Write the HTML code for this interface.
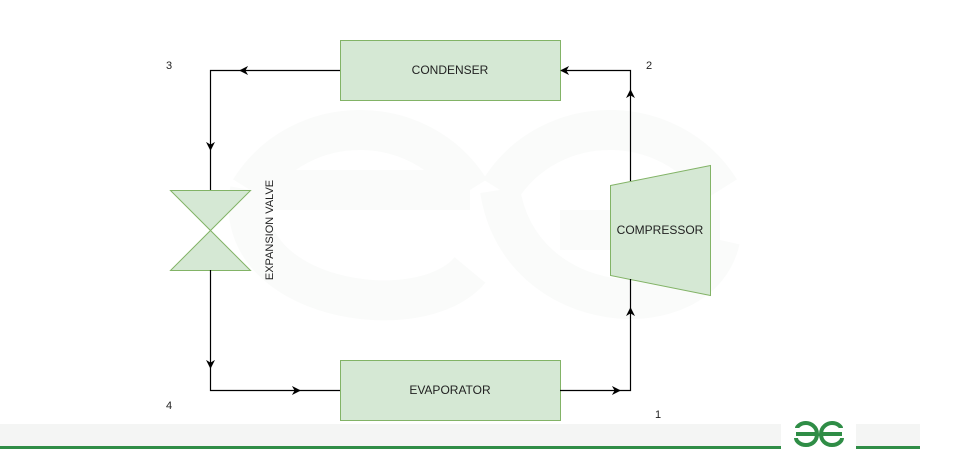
<!DOCTYPE html>
<html><head><style>html,body{margin:0;padding:0;background:#fff}svg{display:block}</style></head>
<body>
<svg width="980" height="460" viewBox="0 0 980 460" xmlns="http://www.w3.org/2000/svg" font-family="Liberation Sans, sans-serif">
<defs>
<marker id="a" viewBox="0 0 10 10" refX="9" refY="5" markerWidth="9" markerHeight="9" orient="auto" markerUnits="userSpaceOnUse"><path d="M0,0 L10,5 L0,10 L3,5 z" fill="#000"/></marker>
</defs>
<rect width="980" height="460" fill="#fff"/>
<!-- faint watermark -->
<g fill="none" stroke="#fafbfa" stroke-width="40">
<path d="M250,190 C300,110 420,110 470,190 M250,190 L470,190 M250,190 C230,300 420,330 470,270"/>
<path d="M720,190 C670,110 550,110 500,190 M720,230 L560,230 M500,190 C520,320 700,330 720,240"/>
</g>
<!-- footer -->
<rect x="0" y="424" width="920" height="23" fill="#f4f5f4"/>
<rect x="0" y="446" width="781" height="3" fill="#2f8d46"/>
<rect x="856" y="446" width="64" height="3" fill="#2f8d46"/>
<rect x="781" y="418" width="75" height="36" fill="#fff"/>
<g fill="none" stroke="#2f8d46" stroke-width="4">
<path d="M796,434 L817,434 C817,427 811,423 806,423 C800,423 797,427 797,428 M817,434 C817,441 812,445 806,445 C800,445 796,441 796,438"/>
<path d="M842,434 L821,434 C821,427 827,423 832,423 C838,423 841,427 841,428 M821,434 C821,441 826,445 832,445 C838,445 842,441 842,438"/>
</g>
<!-- condenser -->
<rect x="340.5" y="40.5" width="220" height="60" fill="#d5e8d4" stroke="#82b366"/>
<text x="450" y="74" font-size="12" text-anchor="middle" fill="#222">CONDENSER</text>
<!-- evaporator -->
<rect x="340.5" y="360.5" width="220" height="60" fill="#d5e8d4" stroke="#82b366"/>
<text x="450" y="394" font-size="12" text-anchor="middle" fill="#222">EVAPORATOR</text>
<!-- valve -->
<path d="M170.5,190.5 L250.5,190.5 L210.5,230.5 Z M170.5,270.5 L250.5,270.5 L210.5,230.5 Z" fill="#d5e8d4" stroke="#82b366"/>
<text transform="translate(273,230) rotate(-90)" font-size="11" text-anchor="middle" fill="#222">EXPANSION VALVE</text>
<!-- compressor -->
<path d="M610.5,185.5 L710.5,165.5 L710.5,295.5 L610.5,275.5 Z" fill="#d5e8d4" stroke="#82b366"/>
<text x="660" y="234" font-size="12" text-anchor="middle" fill="#222">COMPRESSOR</text>
<!-- connectors -->
<g stroke="#000" stroke-width="1.2" fill="none">
<path d="M340,70.5 L240,70.5" marker-end="url(#a)"/>
<path d="M240,70.5 L210.5,70.5 L210.5,150" marker-end="url(#a)"/>
<path d="M210.5,150 L210.5,190"/>
<path d="M210.5,270 L210.5,368" marker-end="url(#a)"/>
<path d="M210.5,368 L210.5,390.5 L300,390.5" marker-end="url(#a)"/>
<path d="M300,390.5 L340,390.5"/>
<path d="M560,390.5 L620,390.5" marker-end="url(#a)"/>
<path d="M620,390.5 L630.5,390.5 L630.5,308" marker-end="url(#a)"/>
<path d="M630.5,308 L630.5,279"/>
<path d="M630.5,181 L630.5,90" marker-end="url(#a)"/>
<path d="M630.5,90 L630.5,70.5 L561,70.5" marker-end="url(#a)"/>
</g>
<g font-size="11" fill="#222">
<text x="166" y="69">3</text>
<text x="646" y="69">2</text>
<text x="166" y="409">4</text>
<text x="655" y="418">1</text>
</g>
</svg>
</body></html>
